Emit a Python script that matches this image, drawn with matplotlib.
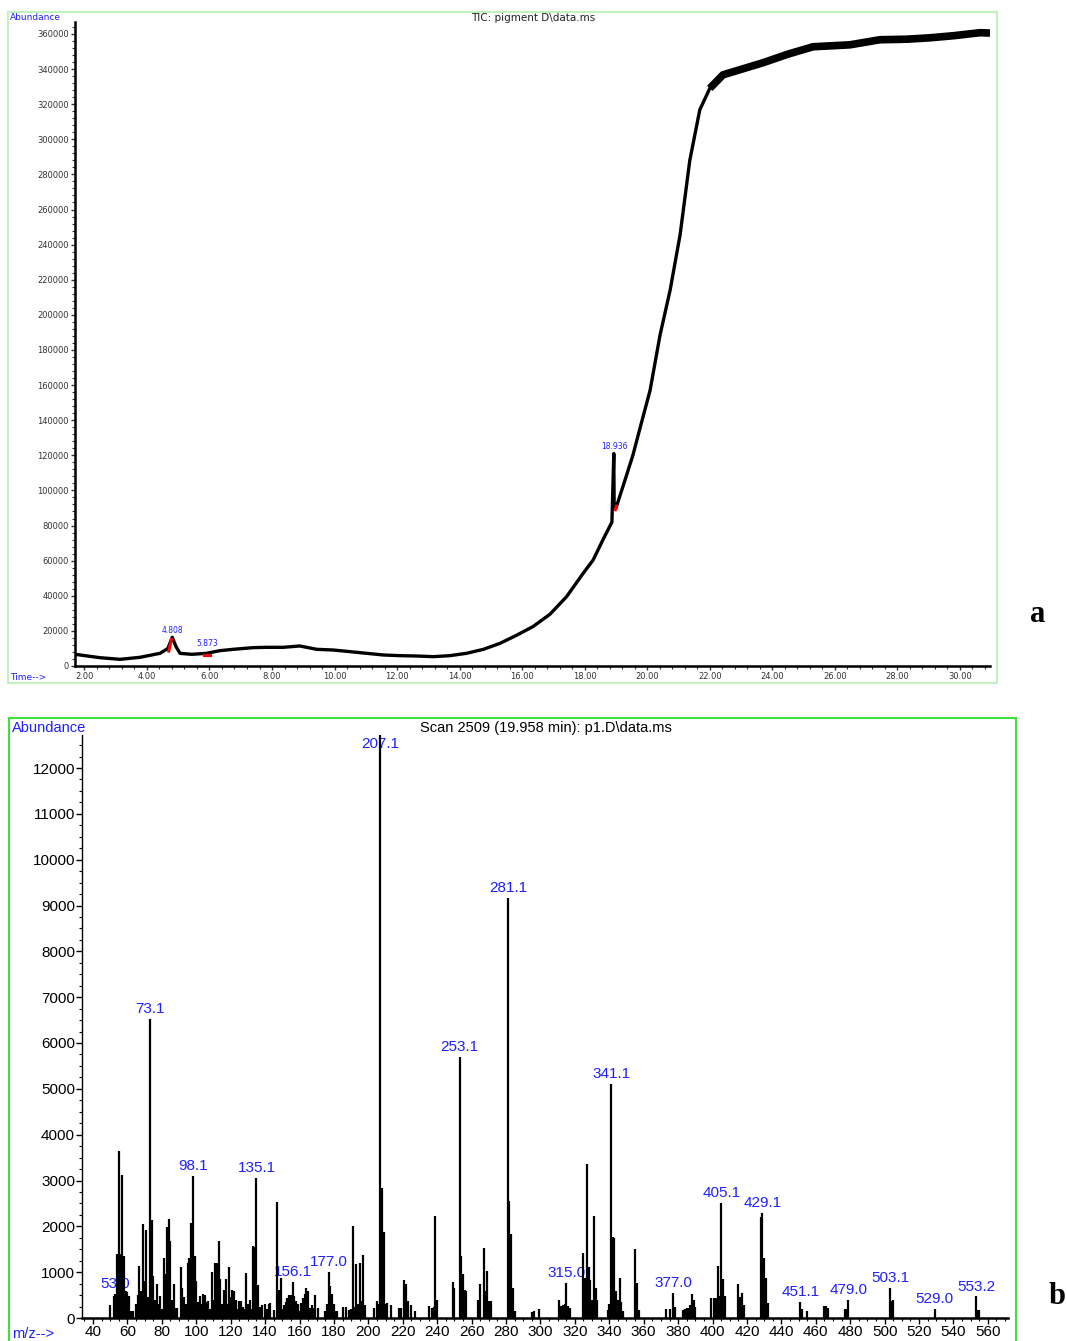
import matplotlib
matplotlib.use('Agg')
import matplotlib.pyplot as plt
from matplotlib.ticker import MultipleLocator
from matplotlib import font_manager
from matplotlib.patches import Rectangle

# ---------------- data: TIC chromatogram (panel a) ----------------
tic_time = [1.70, 2.50, 3.14, 3.78, 4.42, 4.67, 4.81, 4.93, 5.06, 5.43, 5.90, 6.33,
            6.76, 7.40, 7.83, 8.36, 8.89, 9.43, 9.96, 10.49, 11.03, 11.56, 12.09,
            12.62, 13.16, 13.69, 14.22, 14.76, 15.29, 15.82, 16.35, 16.89, 17.42,
            17.95, 18.27, 18.58, 18.87, 18.93, 18.94, 19.00, 19.29, 19.54, 19.77,
            20.09, 20.41, 20.73, 21.05, 21.36, 21.68, 22.00, 22.42, 22.96, 23.70,
            24.50, 25.30, 26.48, 27.44, 28.30, 29.04, 29.80, 30.64, 30.96]
tic_abund = [6670, 4730, 3800, 4950, 7230, 10000, 16350, 11000, 7200, 6650, 7200, 8730,
             9500, 10450, 10640, 10640, 11400, 9500, 9100, 8170, 7220, 6270, 5890,
             5700, 5320, 5890, 7220, 9500, 12900, 17500, 22500, 29500, 39500,
             52800, 60400, 71800, 82000, 121000, 93000, 90000, 106000, 120000, 135600,
             157000, 188600, 214000, 245600, 288000, 316800, 329000, 336700, 339600, 343600,
             348500, 352700, 353800, 356700, 357000, 357800, 359000, 360700, 360500]
plateau_start = 21.9

peak_labels_a = ["4.808", "5.873", "18.936"]
peak_label_time = [4.81, 5.93, 18.96]
peak_label_abund = [17500, 10300, 122500]

red_mark_time = [[4.70, 4.78], [5.82, 6.02], [18.98, 19.02]]
red_mark_abund = [[8500, 15000], [6200, 6200], [89000, 91000]]

tic_yticks = list(range(0, 360001, 20000))
tic_xticks = list(range(2, 31, 2))

# ---------------- data: mass spectrum (panel b) ----------------
ms_mz = [50, 52, 53, 54, 55, 56, 57, 58, 59, 60, 61, 62, 63, 65, 66, 67, 68, 69, 70,
         71, 72, 73, 74, 75, 76, 77, 78, 79, 80, 81, 82, 83, 84, 85, 86, 87, 88, 89,
         91, 92, 93, 94, 95, 96, 97, 98, 99, 100, 101, 102, 103, 104, 105, 106, 107,
         108, 109, 110, 111, 112, 113, 114, 115, 116, 117, 118, 119, 120, 121, 122,
         123, 124, 125, 126, 127, 128, 129, 130, 131, 132, 133, 134, 135, 136, 137,
         138, 140, 141, 142, 143, 145, 147, 148, 149, 150, 151, 152, 153, 154, 155,
         156, 157, 158, 159, 160, 161, 162, 163, 164, 165, 166, 167, 168, 169, 171,
         175, 176, 177, 178, 179, 180, 181, 182, 185, 187, 189, 190, 191, 192, 193,
         194, 195, 196, 197, 198, 203, 205, 206, 207, 208, 209, 210, 211, 213, 218,
         219, 221, 222, 223, 225, 227, 235, 237, 238, 239, 240, 249, 250, 253, 254,
         255, 256, 257, 264, 265, 267, 268, 269, 270, 271, 281, 282, 283, 284, 285,
         295, 296, 299, 311, 312, 313, 314, 315, 316, 317, 325, 326, 327, 328, 329,
         330, 331, 332, 333, 339, 340, 341, 342, 343, 344, 345, 346, 347, 348, 355,
         356, 357, 373, 375, 377, 378, 383, 384, 385, 386, 387, 388, 389, 390, 399,
         401, 402, 403, 404, 405, 406, 407, 415, 416, 417, 418, 428, 429, 430, 431,
         432, 451, 452, 455, 465, 466, 467, 477, 478, 479, 503, 504, 505, 529, 553,
         554, 555]
ms_int = [280, 480, 520, 1400, 3640, 1400, 3120, 1350, 600, 560, 480, 150, 150, 300, 500,
          1140, 600, 2060, 800, 1930, 450, 6530, 2130, 920, 400, 740, 300, 480, 200,
          1320, 950, 1985, 2150, 1690, 400, 735, 220, 220, 1120, 660, 460, 300, 1190,
          1300, 2080, 3100, 1350, 800, 350, 480, 300, 520, 500, 350, 380, 200, 1000,
          400, 1190, 1210, 1680, 850, 300, 620, 850, 300, 1120, 450, 620, 590, 400,
          200, 380, 370, 250, 200, 990, 300, 400, 200, 1570, 1540, 3060, 720, 250,
          290, 310, 200, 310, 330, 180, 2540, 620, 880, 200, 290, 350, 440, 500, 500,
          790, 480, 370, 300, 150, 330, 440, 515, 660, 600, 220, 290, 220, 500, 220,
          150, 300, 1000, 700, 515, 300, 150, 150, 240, 240, 180, 200, 2000, 240, 1180,
          300, 1210, 370, 1375, 290, 220, 370, 300, 12720, 2830, 1875, 300, 330, 290,
          220, 220, 820, 735, 370, 290, 150, 260, 220, 240, 2220, 400, 790, 660, 5700,
          1350, 970, 610, 590, 400, 750, 1530, 600, 1030, 380, 380, 9170, 2560, 1840,
          660, 150, 140, 150, 195, 400, 260, 280, 300, 760, 260, 220, 1410, 880, 3350,
          1120, 830, 400, 2225, 650, 390, 175, 300, 5110, 1760, 1740, 600, 390, 865,
          360, 150, 1510, 760, 175, 190, 190, 550, 250, 175, 190, 210, 210, 285, 515,
          390, 250, 430, 430, 430, 1135, 490, 2510, 845, 480, 740, 465, 540, 285,
          2200, 2290, 1300, 880, 320, 355, 190, 160, 260, 260, 210, 190, 190, 400,
          650, 370, 390, 200, 470, 170, 170]

ms_labels = ["53.0", "73.1", "98.1", "135.1", "156.1", "177.0", "207.1", "253.1",
             "281.1", "315.0", "341.1", "377.0", "405.1", "429.1", "451.1", "479.0",
             "503.1", "529.0", "553.2"]
ms_label_mz = [53.0, 73.1, 98.1, 135.1, 156.1, 177.0, 207.1, 253.1, 281.1, 315.0,
               341.1, 377.0, 405.1, 429.1, 451.1, 479.0, 503.1, 529.0, 553.2]
ms_label_int = [520, 6530, 3100, 3060, 790, 1000, 12370, 5700, 9170, 760, 5110,
                550, 2510, 2290, 355, 400, 650, 200, 470]

ms_yticks = list(range(0, 12001, 1000))
ms_xticks = list(range(40, 561, 20))

# ---------------- fonts ----------------
avail = {f.name for f in font_manager.fontManager.ttflist}
def pick(names):
    for n in names:
        if n in avail:
            return n
    return 'DejaVu Sans'
narrow = pick(['Liberation Sans Narrow', 'Arial Narrow', 'Liberation Sans'])
serif = pick(['Liberation Serif', 'DejaVu Serif'])

W, H = 1067, 1341
fig = plt.figure(figsize=(W / 100, H / 100), dpi=100)
def fx(x): return x / W
def fy(y): return 1 - y / H

BLUE = '#1f1fff'

# ---------------- panel a ----------------
ax1 = fig.add_axes([fx(75), fy(666), (990 - 75) / W, (666 - 22) / H])
ax1.set_xlim(1.70, 30.96)
ax1.set_ylim(0, 366800)
ax1.plot(tic_time, tic_abund, color='black', lw=2.4, solid_joinstyle='round', zorder=3)
pt = [t for t in tic_time if t >= plateau_start]
pa = [a for t, a in zip(tic_time, tic_abund) if t >= plateau_start]
ax1.plot(pt, pa, color='black', lw=5.5, solid_capstyle='butt', zorder=3)
for ts, vs in zip(red_mark_time, red_mark_abund):
    ax1.plot(ts, vs, color='red', lw=2.2, zorder=4)
for lab, t, v in zip(peak_labels_a, peak_label_time, peak_label_abund):
    ax1.text(t, v, lab, color=BLUE, fontsize=5.5, ha='center', va='bottom', zorder=5)
for s in ['top', 'right']:
    ax1.spines[s].set_visible(False)
ax1.spines['left'].set_linewidth(1.8)
ax1.spines['bottom'].set_linewidth(1.8)
ax1.set_yticks(tic_yticks)
ax1.set_yticklabels([str(v) for v in tic_yticks])
ax1.yaxis.set_minor_locator(MultipleLocator(4000))
ax1.set_xticks(tic_xticks)
ax1.set_xticklabels(['%.2f' % t for t in tic_xticks])
ax1.xaxis.set_minor_locator(MultipleLocator(0.4))
ax1.tick_params(axis='both', which='major', labelsize=6, colors='#333333', length=3, width=1, pad=1.5)
ax1.tick_params(axis='both', which='minor', length=2, width=0.8, colors='#333333')
fig.text(fx(10), fy(18), 'Abundance', color=BLUE, fontsize=6.5, ha='left', va='center')
fig.text(fx(533), fy(18), 'TIC: pigment D\\data.ms', color='#222222', fontsize=7.5, ha='center', va='center')
fig.text(fx(10), fy(677), 'Time-->', color=BLUE, fontsize=6.5, ha='left', va='center')
fig.add_artist(Rectangle((fx(8), fy(683)), fx(997) - fx(8), fy(12) - fy(683),
                         transform=fig.transFigure, fill=False, edgecolor='#bff2bf', lw=1.5))
fig.text(fx(1038), fy(615), 'a', family=serif, fontweight='bold', fontsize=22, ha='center', va='center')

# ---------------- panel b ----------------
ax2 = fig.add_axes([fx(82), fy(1318), (1008 - 82) / W, (1318 - 735) / H])
ax2.set_xlim(33.6, 571.7)
ax2.set_ylim(0, 12720)
ax2.vlines(ms_mz, 0, ms_int, color='black', lw=1.6, zorder=3)
for lab, m, v in zip(ms_labels, ms_label_mz, ms_label_int):
    if lab == '207.1':
        ax2.text(m, v, lab, color=BLUE, fontsize=11, family=narrow, ha='center', va='bottom', zorder=2)
    else:
        ax2.annotate(lab, (m, v), xytext=(0, 2), textcoords='offset points', color=BLUE,
                     fontsize=11, family=narrow, ha='center', va='bottom', zorder=2)
for s in ['top', 'right']:
    ax2.spines[s].set_visible(False)
ax2.spines['left'].set_linewidth(1.0)
ax2.spines['bottom'].set_linewidth(1.8)
ax2.set_yticks(ms_yticks)
ax2.set_yticklabels([str(v) for v in ms_yticks])
ax2.yaxis.set_minor_locator(MultipleLocator(250))
ax2.set_xticks(ms_xticks)
ax2.set_xticklabels([str(v) for v in ms_xticks])
ax2.xaxis.set_minor_locator(MultipleLocator(5))
ax2.tick_params(axis='both', which='major', labelsize=11, length=4, width=1, pad=1)
ax2.tick_params(axis='both', which='minor', length=2.5, width=0.8)
for lbl in ax2.get_xticklabels() + ax2.get_yticklabels():
    lbl.set_family(narrow)
fig.text(fx(12), fy(728), 'Abundance', color=BLUE, fontsize=10.5, family=narrow, ha='left', va='center')
fig.text(fx(546), fy(728), 'Scan 2509 (19.958 min): p1.D\\data.ms', color='black', fontsize=10.5,
         family=narrow, ha='center', va='center')
fig.text(fx(12), fy(1334), 'm/z-->', color=BLUE, fontsize=10.5, family=narrow, ha='left', va='center')
fig.add_artist(Rectangle((fx(9), fy(1345)), fx(1016) - fx(9), fy(718) - fy(1345),
                         transform=fig.transFigure, fill=False, edgecolor='#3ee03e', lw=1.5))
fig.text(fx(1057), fy(1296), 'b', family=serif, fontweight='bold', fontsize=22, ha='center', va='center')

fig.savefig('out.png', dpi=100)
